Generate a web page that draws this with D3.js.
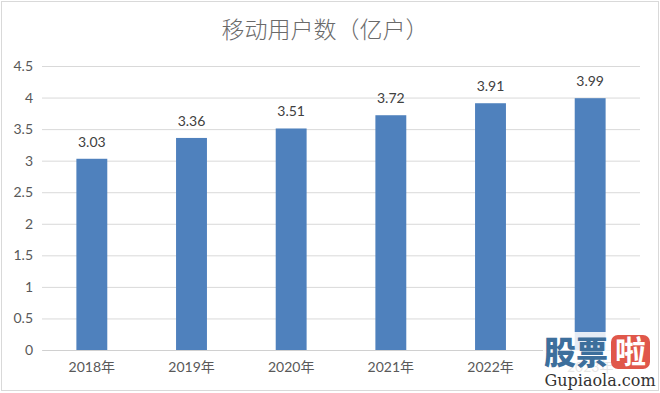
<!DOCTYPE html>
<html>
<head>
<meta charset="utf-8">
<script src="https://cdn.jsdelivr.net/npm/d3@7"></script>
<style>
  body { margin: 0; background: #fff; }
  svg { display: block; }
</style>
</head>
<body>
<svg id="chart"></svg>
<script>
// data
var years = ['2018年', '2019年', '2020年', '2021年', '2022年', '2023年'];
var users = [3.03, 3.36, 3.51, 3.72, 3.91, 3.99];
var yTicks = [0, 0.5, 1, 1.5, 2, 2.5, 3, 3.5, 4, 4.5];
var title = '移动用户数（亿户）';

var width = 660, height = 393;
var margin = { top: 66, right: 20, bottom: 43, left: 42 };
var in_width = width - margin.left - margin.right;
var in_height = height - margin.top - margin.bottom;

var svg = d3.select('#chart')
    .attr('width', width)
    .attr('height', height);

// outer frame
svg.append('rect')
    .attr('x', 1.5).attr('y', 1.5)
    .attr('width', width - 3).attr('height', height - 4)
    .attr('fill', '#fff')
    .attr('stroke', '#d9d9d9');

// title
svg.append('text')
    .attr('x', width / 2 - 5)
    .attr('y', 38)
    .attr('text-anchor', 'middle')
    .style('font-family', '"Noto Sans CJK SC", sans-serif')
    .style('font-size', '23px')
    .style('font-weight', 300)
    .attr('fill', '#6a6a6a')
    .text(title);

var xScale = d3.scaleBand()
    .domain(years)
    .range([0, in_width])
    .paddingInner(0.69)
    .paddingOuter(0.345);

var yScale = d3.scaleLinear()
    .domain([0, 4.5])
    .range([in_height, 0]);

var g = svg.append('g')
    .attr('transform', 'translate(' + margin.left + ',' + margin.top + ')');

// gridlines + y labels
var yAxis = d3.axisLeft(yScale)
    .tickValues(yTicks)
    .tickSize(-in_width)
    .tickPadding(9)
    .tickFormat(function (d) { return d; });
var yAxisGroup = g.append('g').call(yAxis);
yAxisGroup.select('.domain').remove();
yAxisGroup.selectAll('.tick line')
    .attr('stroke', '#d9d9d9');
yAxisGroup.selectAll('.tick text')
    .attr('fill', '#595959')
    .style('font-family', 'Lato, "Open Sans", sans-serif')
    .style('font-size', '14px');

// x axis
var xAxisGroup = g.append('g')
    .attr('transform', 'translate(0,' + in_height + ')')
    .call(d3.axisBottom(xScale).tickSize(0).tickPadding(12));
xAxisGroup.select('.domain').attr('stroke', '#d0d0d0');
xAxisGroup.selectAll('.tick text')
    .attr('fill', '#595959')
    .style('font-family', 'Lato, "Noto Sans CJK SC", sans-serif')
    .style('font-size', '14px');

// bars
var bars = g.selectAll('.bar')
    .data(users)
    .enter().append('g');

bars.append('rect')
    .attr('x', function (d, i) { return xScale(years[i]); })
    .attr('y', function (d) { return yScale(d); })
    .attr('width', xScale.bandwidth())
    .attr('height', function (d) { return in_height - yScale(d); })
    .attr('fill', '#4f81bd');

bars.append('text')
    .attr('x', function (d, i) { return xScale(years[i]) + xScale.bandwidth() / 2; })
    .attr('y', function (d) { return yScale(d) - 12; })
    .attr('text-anchor', 'middle')
    .attr('fill', '#404040')
    .style('font-family', 'Lato, "Open Sans", sans-serif')
    .style('font-size', '14px')
    .text(function (d) { return d.toFixed(2); });

// watermark
var wm = svg.append('g');
wm.append('rect')
    .attr('x', 543).attr('y', 332)
    .attr('width', 115).attr('height', 58)
    .attr('fill', '#fff')
    .attr('opacity', 0.85);
wm.append('text')
    .attr('x', 544).attr('y', 364)
    .style('font-family', '"Noto Sans CJK SC", sans-serif')
    .style('font-size', '32px')
    .style('font-weight', 900)
    .attr('fill', '#3d6f9c')
    .text('股票');
wm.append('rect')
    .attr('x', 611).attr('y', 335)
    .attr('width', 39).attr('height', 34)
    .attr('rx', 7)
    .attr('fill', '#e0574a');
wm.append('text')
    .attr('x', 630.5).attr('y', 363)
    .attr('text-anchor', 'middle')
    .style('font-family', '"Noto Sans CJK SC", sans-serif')
    .style('font-size', '31px')
    .style('font-weight', 700)
    .attr('fill', '#fff')
    .text('啦');
wm.append('text')
    .attr('x', 600).attr('y', 386)
    .attr('text-anchor', 'middle')
    .style('font-family', '"DejaVu Serif", "Liberation Serif", serif')
    .style('font-size', '16px')
    .attr('fill', '#333')
    .text('Gupiaola.com');
</script>
</body>
</html>
